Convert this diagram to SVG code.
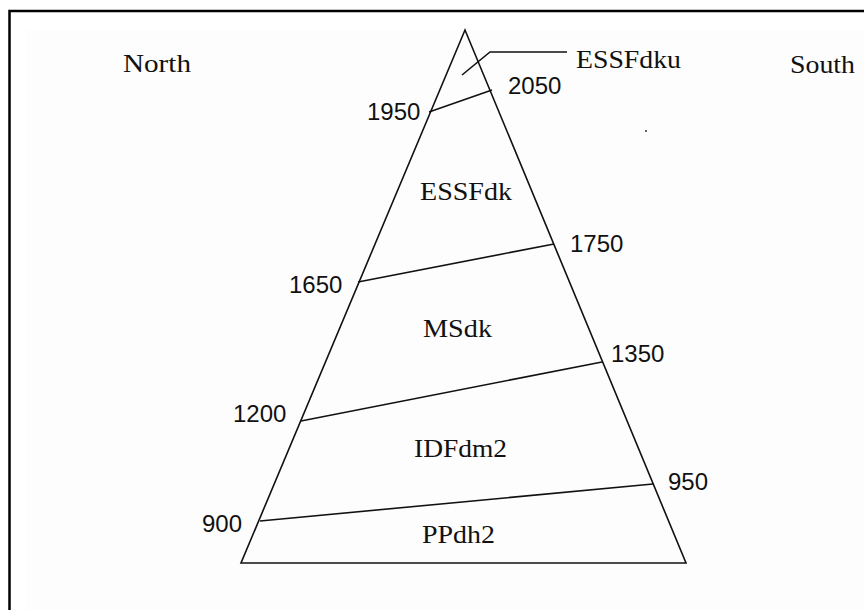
<svg xmlns="http://www.w3.org/2000/svg" width="864" height="610" viewBox="0 0 864 610">
<style>
.ln{fill:none;stroke:#111;stroke-width:1.6;stroke-linejoin:miter}
.fr{fill:none;stroke:#000;stroke-width:2.5}
.zn{font-family:"Liberation Serif","Times New Roman",serif;font-size:26px;fill:#111}
.el{font-family:"Liberation Sans",Arial,sans-serif;font-size:24px;fill:#111}
</style>
<rect width="864" height="610" fill="#fff"/>
<rect x="27" y="30" width="837" height="580" fill="#fdfdfd"/>
<path class="fr" d="M9.5,610 V11 H864"/>
<g id="triangle">
<path class="ln" d="M465,30 L241,563 H686 Z"/>
</g>
<g id="boundaries">
<line class="ln" x1="429" y1="112" x2="492" y2="90"/>
<line class="ln" x1="358" y1="282" x2="554" y2="244"/>
<line class="ln" x1="301" y1="421" x2="602" y2="362"/>
<line class="ln" x1="260" y1="521" x2="653" y2="484"/>
<polyline class="ln" points="462,75 490,52 567,52"/>
</g>
<g id="directions">
<text class="zn" x="123" y="72" textLength="68" lengthAdjust="spacingAndGlyphs">North</text>
<text class="zn" x="790" y="73" textLength="65" lengthAdjust="spacingAndGlyphs">South</text>
</g>
<g id="zones">
<text class="zn" x="576" y="68" textLength="105" lengthAdjust="spacingAndGlyphs">ESSFdku</text>
<text class="zn" x="420" y="200" textLength="92" lengthAdjust="spacingAndGlyphs">ESSFdk</text>
<text class="zn" x="423" y="337" textLength="69" lengthAdjust="spacingAndGlyphs">MSdk</text>
<text class="zn" x="414" y="457" textLength="93" lengthAdjust="spacingAndGlyphs">IDFdm2</text>
<text class="zn" x="422" y="543" textLength="73" lengthAdjust="spacingAndGlyphs">PPdh2</text>
</g>
<g id="elevations">
<text class="el" x="367" y="120">1950</text>
<text class="el" x="508" y="94">2050</text>
<text class="el" x="289" y="293">1650</text>
<text class="el" x="570" y="252">1750</text>
<text class="el" x="233" y="422">1200</text>
<text class="el" x="611" y="362">1350</text>
<text class="el" x="202" y="532">900</text>
<text class="el" x="668" y="490">950</text>
</g>
<circle cx="646" cy="131" r="1" fill="#333"/>
</svg>
